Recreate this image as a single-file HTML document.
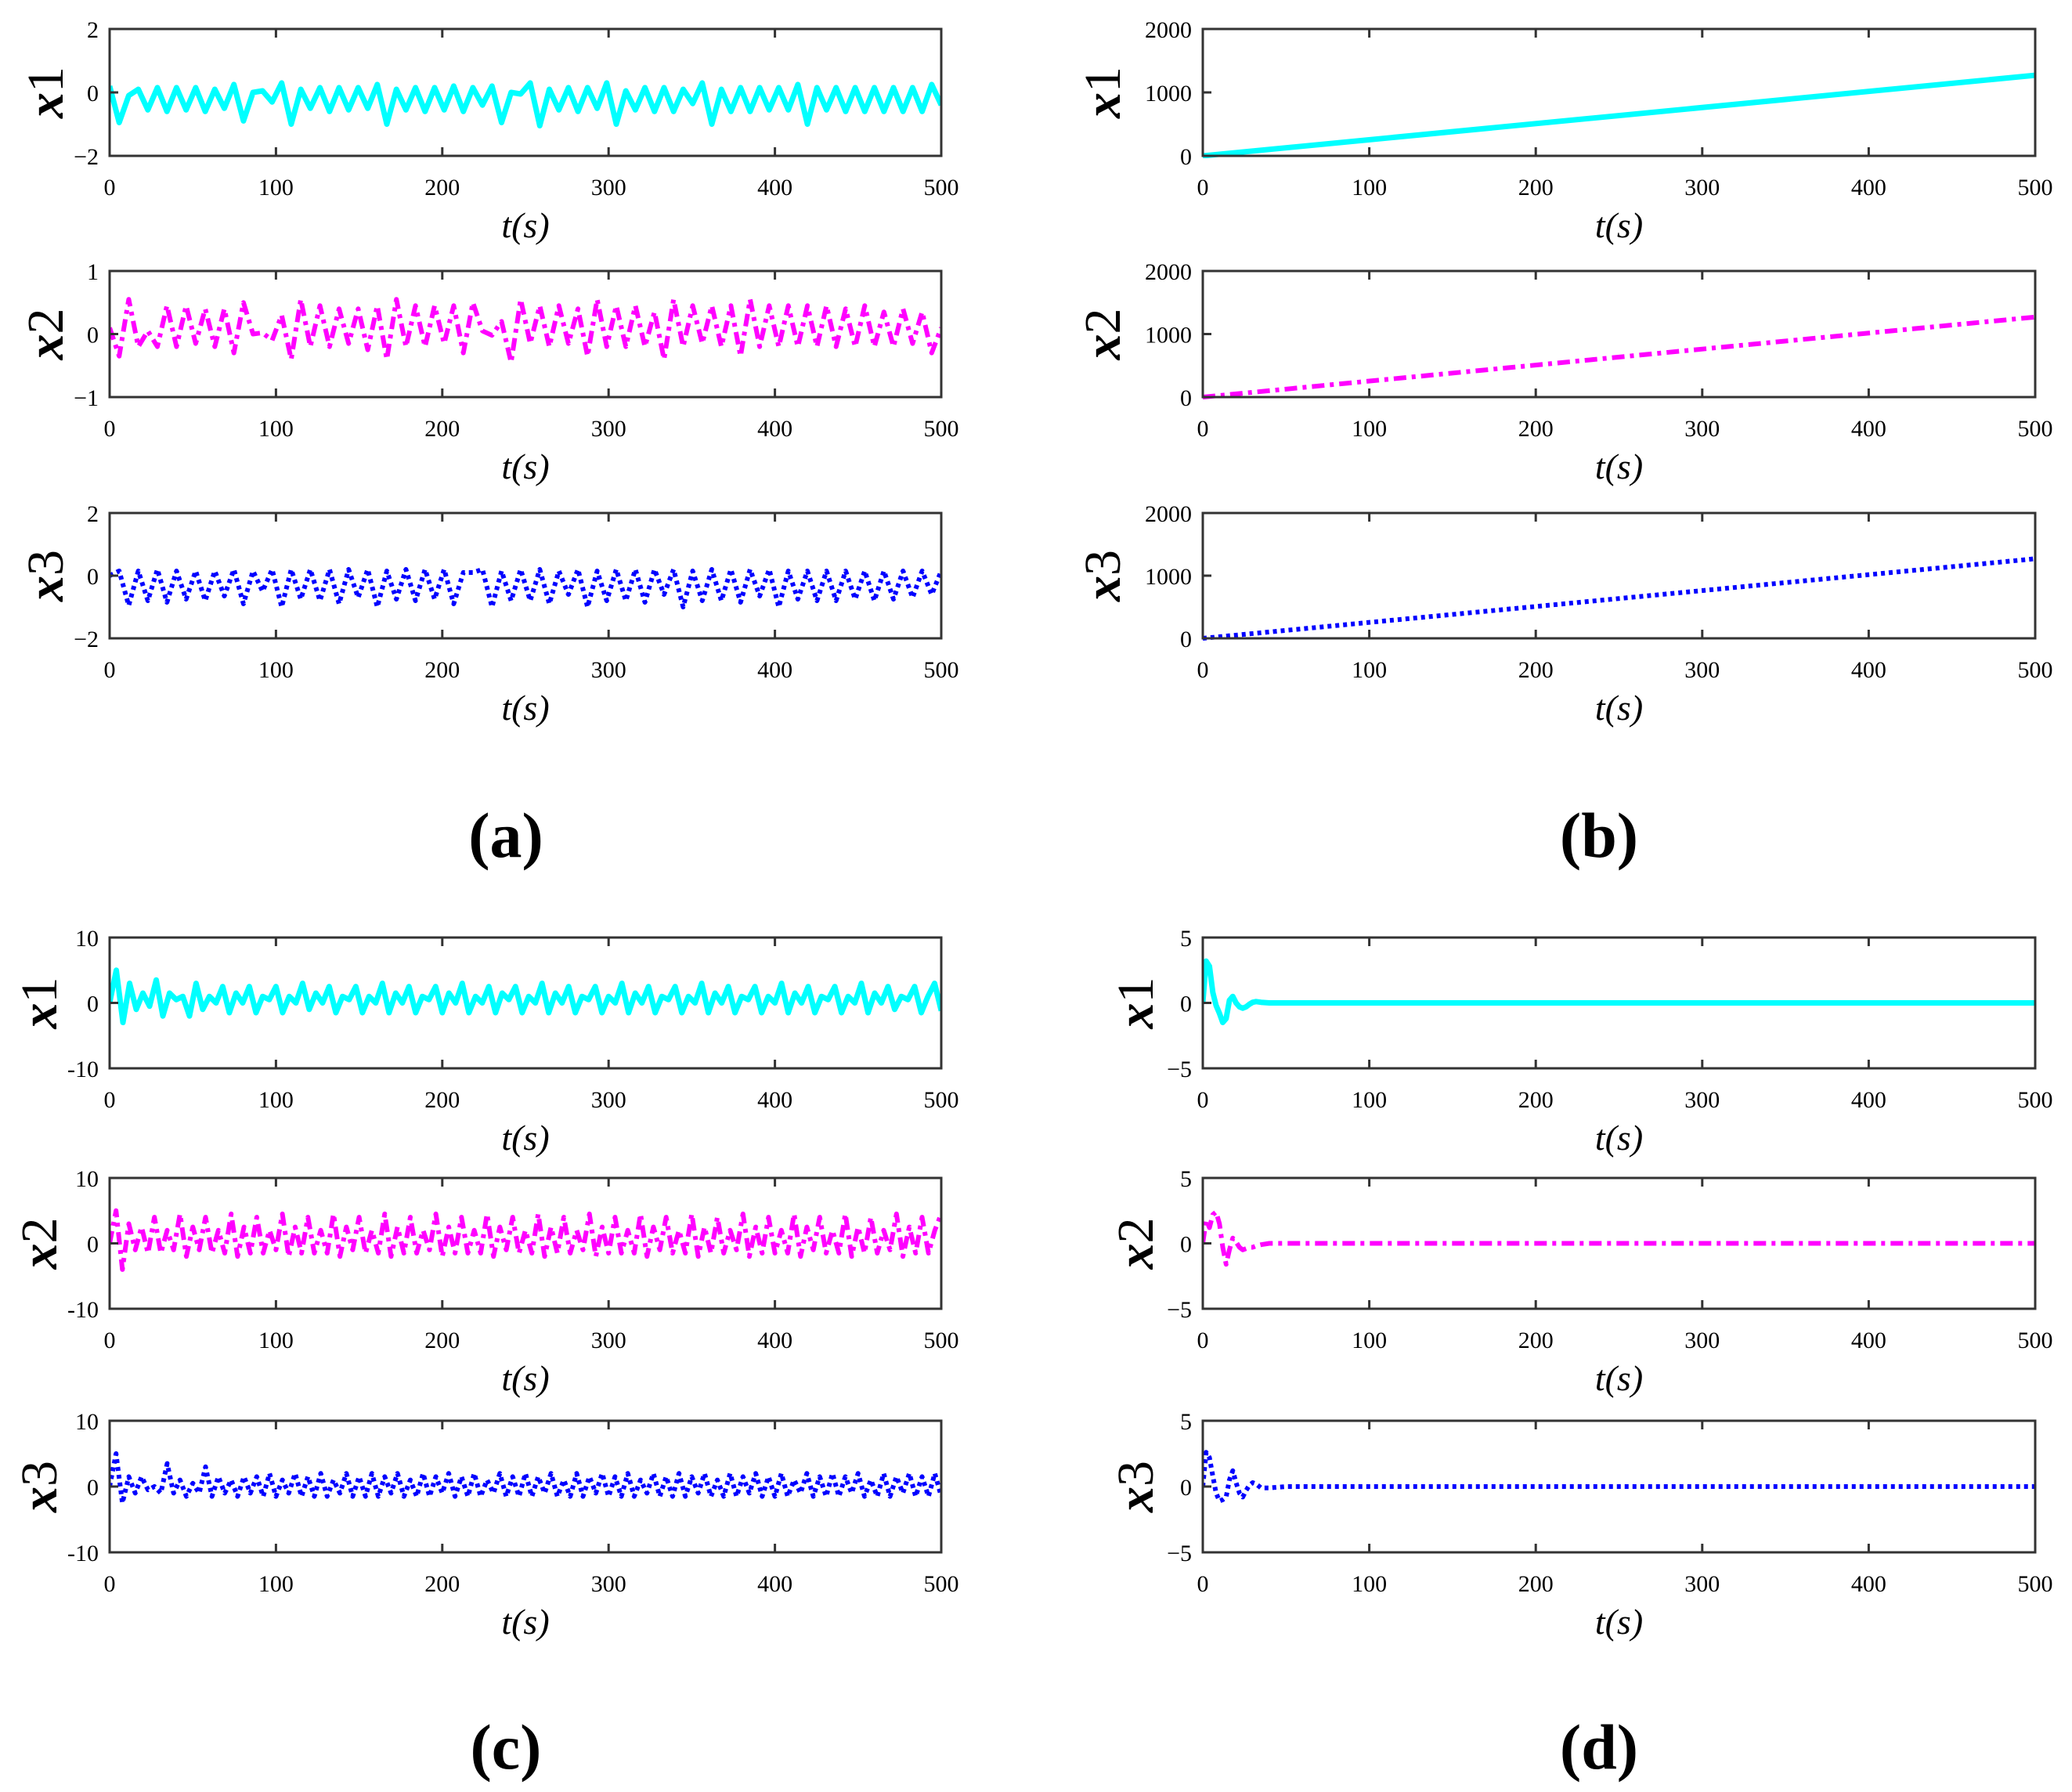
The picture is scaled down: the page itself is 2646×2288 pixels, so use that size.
<!DOCTYPE html>
<html><head><meta charset="utf-8"><style>
html,body{margin:0;padding:0;background:#fff;}
svg text{font-family:"Liberation Serif",serif;fill:#000;}
</style></head><body>
<svg id="fig" width="2646" height="2283" viewBox="0 0 2646 2283" xmlns="http://www.w3.org/2000/svg">
<rect width="2646" height="2283" fill="#fff"/>
<text x="646" y="1094" font-size="82" font-weight="bold" text-anchor="middle">(a)</text>
<text x="2042" y="1094" font-size="82" font-weight="bold" text-anchor="middle">(b)</text>
<text x="646" y="2258" font-size="82" font-weight="bold" text-anchor="middle">(c)</text>
<text x="2042" y="2258" font-size="82" font-weight="bold" text-anchor="middle">(d)</text>
</svg>
<script>
// ---- data ----
const xTicks = [0,100,200,300,400,500];
const a1 = [0.2,-0.95,-0.1,0.1,-0.55,0.15,-0.6,0.15,-0.55,0.15,-0.6,0.1,-0.5,0.25,-0.9,0,0.05,-0.3,0.3,-1.0,0.1,-0.5,0.15,-0.6,0.15,-0.55,0.15,-0.5,0.25,-1.0,0.1,-0.55,0.15,-0.6,0.15,-0.55,0.2,-0.6,0.15,-0.4,0.2,-0.95,0,-0.05,0.3,-1.05,0.1,-0.55,0.15,-0.6,0.15,-0.5,0.3,-1.0,0.05,-0.55,0.15,-0.6,0.15,-0.6,0.1,-0.35,0.3,-1.0,0.1,-0.6,0.15,-0.6,0.15,-0.55,0.15,-0.55,0.25,-1.0,0.15,-0.55,0.15,-0.6,0.15,-0.6,0.15,-0.6,0.15,-0.6,0.15,-0.6,0.25,-0.4];
const a2 = [0.1,-0.35,0.55,-0.2,0.05,-0.2,0.45,-0.2,0.45,-0.15,0.4,-0.2,0.4,-0.3,0.5,0,0.02,-0.1,0.3,-0.4,0.55,-0.2,0.45,-0.2,0.4,-0.15,0.4,-0.25,0.45,-0.4,0.55,-0.2,0.45,-0.2,0.45,-0.15,0.45,-0.3,0.5,0.05,-0.02,0.2,-0.45,0.55,-0.15,0.45,-0.2,0.45,-0.15,0.4,-0.35,0.55,-0.2,0.45,-0.2,0.45,-0.2,0.35,-0.4,0.55,-0.2,0.45,-0.15,0.45,-0.2,0.45,-0.35,0.55,-0.2,0.45,-0.2,0.45,-0.2,0.45,-0.2,0.45,-0.2,0.4,-0.2,0.45,-0.2,0.35,-0.2,0.4,-0.15,0.35,-0.3,0.1];
const a3 = [0,0.15,-0.95,0.15,-0.8,0.2,-0.85,0.15,-0.75,0.15,-0.8,0.15,-0.65,0.2,-0.9,0.15,-0.5,0.2,-1.0,0.2,-0.75,0.2,-0.8,0.2,-0.9,0.2,-0.7,0.2,-1.0,0.15,-0.75,0.2,-0.8,0.2,-0.75,0.2,-0.9,0.1,0.1,0.2,-1.0,0.15,-0.8,0.2,-0.8,0.2,-0.9,0.15,-0.6,0.2,-1.0,0.15,-0.8,0.2,-0.8,0.2,-0.85,0.2,-0.6,0.2,-1.0,0.15,-0.8,0.2,-0.8,0.2,-0.85,0.2,-0.65,0.2,-1.0,0.15,-0.75,0.15,-0.8,0.15,-0.8,0.15,-0.75,0.15,-0.8,0.15,-0.75,0.15,-0.7,0.15,-0.6,0.15];
const bT = [0,500];
const b1 = [0,1270];
const b2 = [0,1270];
const b3 = [0,1270];
const c1 = [0,5,-3,3,-1,1.5,-0.5,3.5,-2,1.5,0.5,1,-2,3,-1,1,0,2.5,-1.5,1.5,0,2.5,-1.5,1,0.5,2.5,-1.5,1,0,3,-1,1.5,0,2.5,-1.5,1,0.5,2.5,-1.5,1,0,3,-1.5,1.5,0,2.5,-1.5,1,0.5,2.5,-1.5,1.5,0,3,-1.5,1,0,2.5,-1.5,1.5,0.5,2.5,-1.5,1,0,3,-1.5,1.5,0,2.5,-1.5,1,0.5,2.5,-1.5,1,0,3,-1.5,1.5,0,2.5,-1.5,1,0.5,2.5,-1.5,1,0,3,-1.5,1.5,0,2.5,-1.5,1,0.5,2.5,-1.5,1,0,3,-1.5,1.5,0,2.5,-1.5,1,0.5,2.5,-1.5,1,0,3,-1.5,1.5,0,2.5,-1,1,0.5,2.5,-1.5,1,3,-1.2];
const c2 = [0,5,-4,3,-1,2.5,-1.5,4,-1.5,2,-1,4.5,-2,2.5,-1,4,-1.5,2,-1.5,4.5,-2,2.5,-1.5,4,-1.5,2,-1,4.5,-2,2.5,-1.5,4,-1.5,2,-1.5,4.5,-2,2.5,-1,4,-1.5,2,-1.5,4.5,-2,2.5,-1.5,4,-1.5,2,-1,4.5,-2,2.5,-1.5,4,-1.5,2,-1.5,4.5,-2,2.5,-1,4,-1.5,2,-1.5,4.5,-2,2.5,-1.5,4,-1.5,2,-1,4.5,-2,2.5,-1.5,4,-1.5,2,-1.5,4.5,-2,2.5,-1,4,-1.5,2,-1.5,4.5,-2,2.5,-1.5,4,-1.5,2,-1,4.5,-2,2.5,-1.5,4,-1.5,2,-1.5,4.5,-2,2.5,-1,4,-1.5,2,-1.5,4.5,-2,2.5,-1.5,4,-1.5,2,-1,4.5,-2,2.5,-1.5,4,-1.5,2,4.5];
const c3 = [0,5,-2.5,1.5,-1,1.5,-0.5,0,-1,3.5,-1,1,-1.5,0.5,-1,3,-1.5,1.5,-1,1,-1.5,1.5,-1,1.5,-1.5,2,-1.5,1,-1,2,-1.5,1.5,-1.5,2,-1.5,1,-1,2,-1.5,1.5,-1.5,2,-1.5,1.5,-1,2,-1.5,1,-1.5,2,-1.5,1.5,-1,2,-1.5,1.5,-1.5,2,-1.5,1,-1,2,-1.5,1.5,-1.5,2,-1.5,1.5,-1,2,-1.5,1,-1.5,2,-1.5,1.5,-1,2,-1.5,1.5,-1.5,2,-1.5,1,-1,2,-1.5,1.5,-1.5,2,-1.5,1.5,-1,2,-1.5,1,-1.5,2,-1.5,1.5,-1,2,-1.5,1.5,-1.5,2,-1.5,1,-1,2,-1.5,1.5,-1.5,2,-1.5,1.5,-1,2,-1.5,1,-1.5,2,-1.5,1.5,-1,2,-1.5,1.5,-1.5,2,-1.5];
const dT = [0,2,4,6,8,10,12,14,16,18,20,22,24,26,28,30,32,35,40,50,500];
const d1 = [0,3.2,2.8,0.8,-0.2,-0.8,-1.5,-1.2,0.2,0.5,0,-0.3,-0.4,-0.3,-0.1,0.05,0.1,0.05,0,0,0];
const d2 = [0,1.8,1.2,2.2,2.4,1.5,-0.3,-1.6,-0.5,0.4,0.1,-0.3,-0.5,-0.4,-0.3,-0.3,-0.2,-0.1,0,0,0];
const d3 = [0,2.6,2.2,0.8,-0.5,-1.1,-1.0,-0.8,0.5,1.2,0.3,-0.5,-0.8,-0.3,0.1,0.3,0.2,-0.1,-0.1,0,0];

// ---- layout ----
const svg = document.getElementById('fig');
const NS = 'http://www.w3.org/2000/svg';
function el(tag, attrs, parent){ const e=document.createElementNS(NS,tag); for(const k in attrs) e.setAttribute(k,attrs[k]); (parent||svg).appendChild(e); return e; }
function evenT(vals){ return vals.map((v,i)=>i*500/(vals.length-1)); }

function panel(id, left, right, top, bottom, yMin, yMax, yTicks, yLabels, idx, ts, vs, color, dash, lw, labelOff){
  const g = el('g',{});
  
  
  const xs = t => left + (t-0)/(500)*(right-left);
  const ys = v => bottom - (v-yMin)/(yMax-yMin)*(bottom-top);
  const cp = el('clipPath',{id:'clip-'+id},g);
  el('rect',{x:left,y:top-3,width:right-left,height:bottom-top+6},cp);
  let d='';
  for(let i=0;i<ts.length;i++){ d += (i?'L':'M')+xs(ts[i]).toFixed(1)+' '+ys(vs[i]).toFixed(1); }
  const p = el('path',{d:d,fill:'none',stroke:color,'stroke-width':lw,'stroke-linejoin':'round','clip-path':'url(#clip-'+id+')'},g);
  if(dash) p.setAttribute('stroke-dasharray',dash);
  
  
  const b = el('rect',{x:left,y:top,width:right-left,height:bottom-top,fill:'none',stroke:'#333','stroke-width':3},g);
  
  
  xTicks.forEach(t=>{
    const x=xs(t);
    el('line',{x1:x,y1:bottom,x2:x,y2:bottom-11,stroke:'#333','stroke-width':3},g);
    el('line',{x1:x,y1:top,x2:x,y2:top+11,stroke:'#333','stroke-width':3},g);
    const tx = el('text',{x:x,y:bottom+50,'font-size':30,'text-anchor':'middle'},g);
    tx.textContent = String(t);
    
    
  });
  yTicks.forEach((v,i)=>{
    const y=ys(v);
    el('line',{x1:left,y1:y,x2:left+11,y2:y,stroke:'#333','stroke-width':3},g);
    const ty = el('text',{x:left-14,y:y+11,'font-size':30,'text-anchor':'end'},g);
    ty.textContent = yLabels[i];
    
    
  });
  const xt = el('text',{x:(left+right)/2,y:bottom+104,'font-size':46,'text-anchor':'middle','font-style':'italic'},g);
  xt.textContent = 't(s)';
  
  
  const lx = left - labelOff;
  const yc = (top+bottom)/2;
  const yt = el('text',{x:lx,y:yc,'font-size':66,'text-anchor':'middle',transform:'rotate(-90 '+lx+' '+yc+')'},g);
  
  
  const s1 = el('tspan',{'font-style':'italic','font-weight':'bold'},yt); s1.textContent='x';
  const s2 = el('tspan',{},yt); s2.textContent=String(idx);
}

const L=[140,1202], R=[1536,2599];
const rowsTop=[[37,199],[346,507],[655,815]];
const rowsBot=[[1197,1364],[1504,1671],[1814,1982]];
const minus='\u2212';

panel('a-x1',L[0],L[1],rowsTop[0][0],rowsTop[0][1],-2,2,[-2,0,2],[minus+'2','0','2'],1,evenT(a1),a1,'#00ffff',null,7,60);
panel('a-x2',L[0],L[1],rowsTop[1][0],rowsTop[1][1],-1,1,[-1,0,1],[minus+'1','0','1'],2,evenT(a2),a2,'#ff00ff','16,7,5,7',6,60);
panel('a-x3',L[0],L[1],rowsTop[2][0],rowsTop[2][1],-2,2,[-2,0,2],[minus+'2','0','2'],3,evenT(a3),a3,'#0000ff','5,5',6,60);

panel('b-x1',R[0],R[1],rowsTop[0][0],rowsTop[0][1],0,2000,[0,1000,2000],['0','1000','2000'],1,bT,b1,'#00ffff',null,7,106);
panel('b-x2',R[0],R[1],rowsTop[1][0],rowsTop[1][1],0,2000,[0,1000,2000],['0','1000','2000'],2,bT,b2,'#ff00ff','16,7,5,7',6,106);
panel('b-x3',R[0],R[1],rowsTop[2][0],rowsTop[2][1],0,2000,[0,1000,2000],['0','1000','2000'],3,bT,b3,'#0000ff','5,5',6,106);

panel('c-x1',L[0],L[1],rowsBot[0][0],rowsBot[0][1],-10,10,[-10,0,10],['-10','0','10'],1,evenT(c1),c1,'#00ffff',null,7,68);
panel('c-x2',L[0],L[1],rowsBot[1][0],rowsBot[1][1],-10,10,[-10,0,10],['-10','0','10'],2,evenT(c2),c2,'#ff00ff','16,7,5,7',6,68);
panel('c-x3',L[0],L[1],rowsBot[2][0],rowsBot[2][1],-10,10,[-10,0,10],['-10','0','10'],3,evenT(c3),c3,'#0000ff','5,5',6,68);

panel('d-x1',R[0],R[1],rowsBot[0][0],rowsBot[0][1],-5,5,[-5,0,5],[minus+'5','0','5'],1,dT,d1,'#00ffff',null,7,64);
panel('d-x2',R[0],R[1],rowsBot[1][0],rowsBot[1][1],-5,5,[-5,0,5],[minus+'5','0','5'],2,dT,d2,'#ff00ff','16,7,5,7',6,64);
panel('d-x3',R[0],R[1],rowsBot[2][0],rowsBot[2][1],-5,5,[-5,0,5],[minus+'5','0','5'],3,dT,d3,'#0000ff','5,5',6,64);
</script>
</body></html>
